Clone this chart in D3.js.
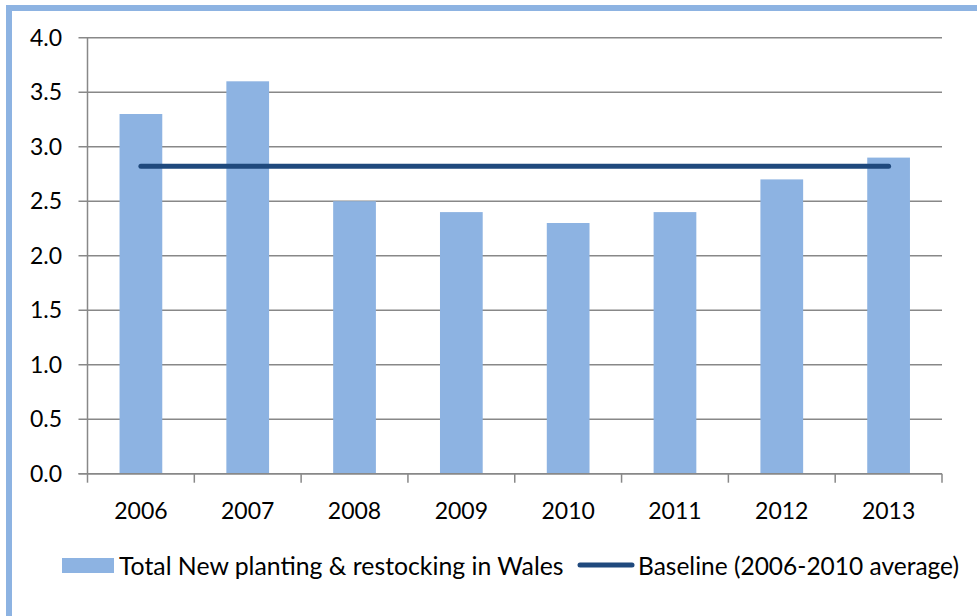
<!DOCTYPE html>
<html><head><meta charset="utf-8">
<script src="https://cdn.jsdelivr.net/npm/d3@7"></script>
<style>body{margin:0;background:#fff}svg{display:block}text{font-family:Lato,"Open Sans",sans-serif;fill:#000}</style>
</head><body>
<script>
const years = ["2006","2007","2008","2009","2010","2011","2012","2013"];
const planting = [3.3, 3.6, 2.5, 2.4, 2.3, 2.4, 2.7, 2.9];
const baselineYears = ["2006","2013"];
const baselineValue = [2.82, 2.82];
const yTicks = [0,0.5,1,1.5,2,2.5,3,3.5,4];
const seriesNames = ["Total New planting & restocking in Wales","Baseline (2006-2010 average)"];

const W=977,H=616;
const svg=d3.select("body").append("svg").attr("width",W).attr("height",H);
svg.append("rect").attr("x",9).attr("y",8).attr("width",W+20).attr("height",H+20)
  .attr("fill","none").attr("stroke","#8DB3E2").attr("stroke-width",6);

const L=87.5,R=942,T=37.7,B=473.7;
const x=d3.scaleBand().domain(years).range([L,R]).paddingInner(0.6).paddingOuter(0.3);
const xb=d3.scaleBand().domain(years).range([L,R]);
const y=d3.scaleLinear().domain([0,4]).range([B,T]);

const g=svg.append("g");
g.selectAll("line.grid").data(yTicks).join("line").attr("class","grid")
 .attr("x1",L-9).attr("x2",R).attr("y1",d=>y(d)).attr("y2",d=>y(d))
 .attr("stroke","#888").attr("stroke-width",1.5);
g.selectAll("text.yl").data(yTicks).join("text").attr("class","yl")
 .attr("x",62).attr("y",d=>y(d)).attr("dy","0.35em").attr("text-anchor","end")
 .attr("font-size",23).text(d=>d.toFixed(1));

g.selectAll("rect.bar").data(planting).join("rect").attr("class","bar")
 .attr("x",(d,i)=>x(years[i])).attr("width",x.bandwidth())
 .attr("y",d=>y(d)).attr("height",d=>y(0)-y(d)).attr("fill","#8DB3E2");

g.append("line").attr("x1",L).attr("x2",L).attr("y1",T).attr("y2",B).attr("stroke","#888").attr("stroke-width",1.5);
g.append("line").attr("x1",L-9).attr("x2",R).attr("y1",B).attr("y2",B).attr("stroke","#888").attr("stroke-width",1.5);
const bounds=years.map(d=>xb(d)).concat([R]);
g.selectAll("line.xt").data(bounds).join("line").attr("class","xt")
 .attr("x1",d=>d).attr("x2",d=>d).attr("y1",B).attr("y2",B+9).attr("stroke","#888").attr("stroke-width",1.5);
g.selectAll("text.xl").data(years).join("text").attr("class","xl")
 .attr("x",d=>xb(d)+xb.bandwidth()/2).attr("y",519).attr("text-anchor","middle")
 .attr("font-size",23).text(d=>d);

const line=d3.line().x(d=>xb(d[0])+xb.bandwidth()/2).y(d=>y(d[1]));
g.append("path").datum(baselineYears.map((d,i)=>[d,baselineValue[i]])).attr("d",line)
 .attr("fill","none").attr("stroke","#1F497D").attr("stroke-width",5).attr("stroke-linecap","round");

g.append("rect").attr("x",62).attr("y",558).attr("width",52).attr("height",15).attr("fill","#8DB3E2");
g.append("text").attr("x",119).attr("y",566).attr("dy","0.35em").attr("font-size",24.8).text(seriesNames[0]);
g.append("line").attr("x1",580).attr("x2",632).attr("y1",565).attr("y2",565).attr("stroke","#1F497D").attr("stroke-width",5).attr("stroke-linecap","round");
g.append("text").attr("x",638).attr("y",566).attr("dy","0.35em").attr("font-size",24.5).text(seriesNames[1]);
</script>
</body></html>
